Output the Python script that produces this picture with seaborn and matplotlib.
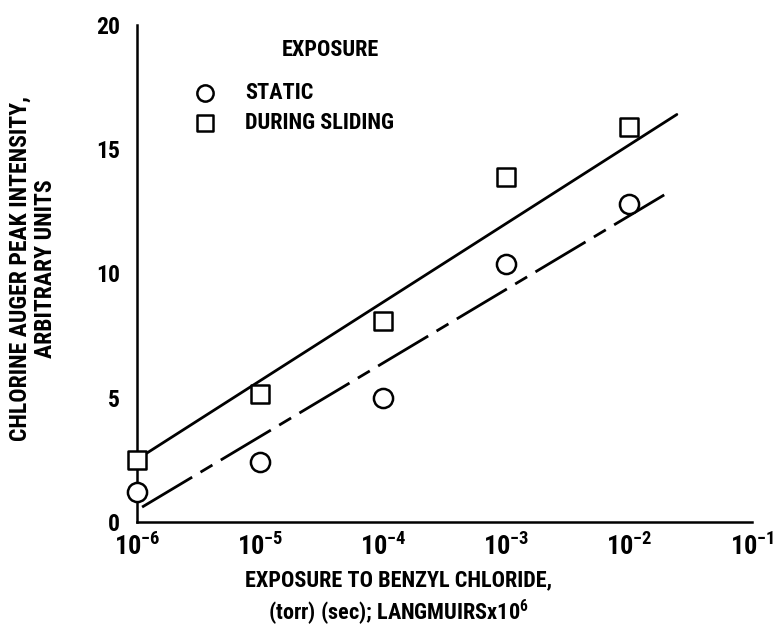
import matplotlib
matplotlib.use("Agg")
import matplotlib.pyplot as plt
import matplotlib.ticker as mticker
from matplotlib import font_manager
import seaborn as sns

# exposure (torr sec) and measured peak intensities
exposure = [1e-6, 1e-5, 1e-4, 1e-3, 1e-2]
static = [1.2, 2.4, 5.0, 10.4, 12.8]
sliding = [2.5, 5.15, 8.1, 13.9, 15.9]

# fitted lines (end points)
fit_x_sliding = [1.06e-6, 2.45e-2]
fit_y_sliding = [2.6, 16.4]
fit_x_static = [1.1e-6, 2.15e-2]
fit_y_static = [0.6, 13.3]

y_ticks = [0, 5, 10, 15, 20]
x_ticks = [1e-6, 1e-5, 1e-4, 1e-3, 1e-2, 1e-1]

# pick a narrow sans if one is around
names = {f.name for f in font_manager.fontManager.ttflist}
font = "DejaVu Sans"
for cand in ["Liberation Sans Narrow", "Roboto Condensed", "DejaVu Sans Condensed",
             "Roboto", "Liberation Sans"]:
    if cand in names:
        font = cand
        break

sns.set_style("white")
plt.rcParams["font.family"] = [font, "DejaVu Sans"]
plt.rcParams["font.weight"] = "bold"
plt.rcParams["axes.labelweight"] = "bold"
plt.rcParams["mathtext.fontset"] = "custom"
plt.rcParams["mathtext.rm"] = font + ":bold"
plt.rcParams["mathtext.it"] = font + ":bold"
plt.rcParams["mathtext.bf"] = font + ":bold"

fig = plt.figure(figsize=(7.75, 6.32), dpi=100)
ax = fig.add_axes([137 / 775, 1 - 522 / 632, (752 - 137) / 775, (522 - 25) / 632])

# fit lines
sns.lineplot(x=fit_x_sliding, y=fit_y_sliding, color="black", linewidth=2.0,
             ax=ax, legend=False)
sns.lineplot(x=fit_x_static, y=fit_y_static, color="black", linewidth=2.0,
             linestyle=(0, (21, 3.5, 5, 3.5)), ax=ax, legend=False)

# data points
sns.scatterplot(x=exposure, y=static, marker="o", s=190, facecolor="white",
                edgecolor="black", linewidth=1.8, label="STATIC", ax=ax,
                clip_on=False, zorder=3)
sns.scatterplot(x=exposure, y=sliding, marker="s", s=170, facecolor="white",
                edgecolor="black", linewidth=1.8, label="DURING SLIDING", ax=ax,
                clip_on=False, zorder=3)

ax.set_xscale("log")
ax.set_xlim(1e-6, 1e-1)
ax.set_ylim(0, 20)
ax.set_xticks(x_ticks)
ax.set_yticks(y_ticks)
ax.xaxis.set_minor_locator(mticker.NullLocator())

for s in ["top", "right"]:
    ax.spines[s].set_visible(False)
for s in ["left", "bottom"]:
    ax.spines[s].set_linewidth(1.8)
    ax.spines[s].set_color("black")

ax.tick_params(axis="x", direction="in", length=20, width=1.8, pad=8,
               labelsize=19, colors="black")
ax.tick_params(axis="y", direction="in", length=21, width=1.8, pad=12,
               labelsize=17, colors="black")
for lab in ax.get_yticklabels() + ax.get_xticklabels():
    lab.set_fontweight("bold")

ax.set_xlabel("EXPOSURE TO BENZYL CHLORIDE,\n(torr) (sec); LANGMUIRSx10$^6$",
              fontsize=16, linespacing=1.3, color="black")
ax.xaxis.set_label_coords(0.425, -0.095)
ax.xaxis.label.set_va("top")
ax.set_ylabel("CHLORINE AUGER PEAK INTENSITY,\nARBITRARY UNITS", fontsize=17,
              linespacing=1.15, color="black")
ax.yaxis.set_label_coords(-0.13, 0.51)

leg = ax.legend(title="EXPOSURE", loc="upper left",
                bbox_to_anchor=(172 / 775, 1 - 28 / 632),
                bbox_transform=fig.transFigure, frameon=False,
                fontsize=16, title_fontsize=16, handletextpad=0.8,
                labelspacing=0.35, borderpad=0, markerscale=0.85)
leg._legend_box.sep = 15
for t in leg.get_texts():
    t.set_color("black")
leg.get_title().set_color("black")
# title sits a bit right of centre in the original
leg.get_title().set_x(42)

fig.savefig("out.png", dpi=100)
